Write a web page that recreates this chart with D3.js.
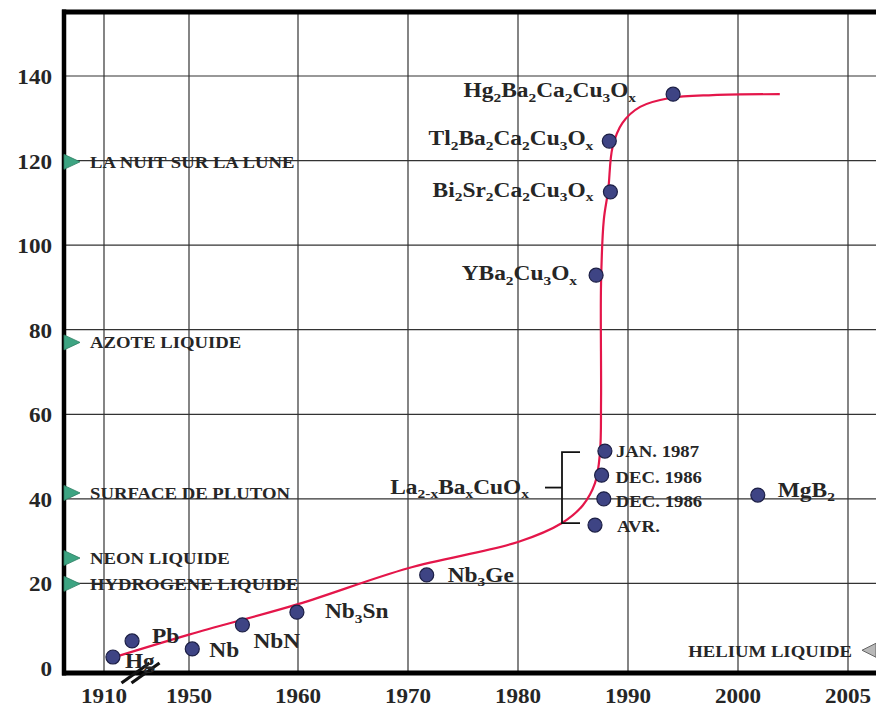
<!DOCTYPE html>
<html><head><meta charset="utf-8">
<script src="https://cdn.jsdelivr.net/npm/d3@7"></script>
<style>
body{margin:0;background:#fff}
svg{display:block}
text{font-family:"Liberation Serif","Times New Roman",serif;font-weight:bold;fill:#262626}
</style>
</head><body><svg id="c" width="876" height="709"></svg>
<script>
// ---------- data ----------
const xTicks = [1910, 1950, 1960, 1970, 1980, 1990, 2000, 2005];
const yTicks = [0, 20, 40, 60, 80, 100, 120, 140];

const materials = ["Hg", "Pb", "Nb", "NbN", "Nb_3Sn", "Nb_3Ge", "AVR.", "DEC. 1986", "DEC. 1986", "JAN. 1987",
  "YBa_2Cu_3O_x", "Bi_2Sr_2Ca_2Cu_3O_x", "Tl_2Ba_2Ca_2Cu_3O_x", "Hg_2Ba_2Ca_2Cu_3O_x", "MgB_2"];
const years = [1914.2, 1923.2, 1950.3, 1954.9, 1959.9, 1971.7, 1987.0, 1987.8, 1987.6, 1987.9,
  1987.1, 1988.4, 1988.3, 1994.1, 2000.9];
const tc = [2.6, 6.4, 4.5, 10.2, 13.2, 22.0, 33.8, 40.0, 45.6, 51.3,
  92.9, 112.6, 124.6, 135.7, 40.9];

const trendYears = [1911.9, 1950, 1960, 1970, 1980, 1984, 1985.9, 1987.0, 1987.45, 1987.55, 1987.55,
  1987.8, 1988.2, 1988.6, 1989.5, 1991.1, 1993.8, 1997.7, 2001.9];
const trendTc = [2.1, 7.9, 15.1, 23.6, 29.8, 34.3, 38.5, 43.7, 50.8, 63.4, 91.0,
  106.0, 113.0, 123.2, 128.9, 132.7, 134.8, 135.5, 135.7];

const refNames = ["LA NUIT SUR LA LUNE", "AZOTE LIQUIDE", "SURFACE DE PLUTON", "NEON LIQUIDE", "HYDROGENE LIQUIDE"];
const refTemps = [119.7, 77, 41.4, 26, 19.9];
const heliumName = "HELIUM LIQUIDE";
const heliumTemp = 4.2;
const groupName = "La_{2-x}Ba_xCuO_x";
const groupMembers = [6, 9]; // indices of first/last La-Ba-Cu-O points

// ---------- layout ----------
const L = 64, T = 12, B = 673, R = 876;
const x = d3.scaleLinear().domain(xTicks).range([104, 189, 298, 408, 518, 628, 738, 848]);
const y = d3.scaleLinear().domain([0, 140]).range([668, 76]);

// label offsets [dx, dy, anchor, size]
const big = 20, small = 16;
const labelLayout = [
  [12, 11, "start", big], [20, 2, "start", big], [17, 8, "start", big], [11, 23, "start", big],
  [28, 6, "start", big], [21, 7, "start", big],
  [22, 7, "start", small], [12, 8, "start", small], [14, 8, "start", small], [11, 6, "start", small],
  [-19, 5, "end", big], [-17, 5, "end", big], [-16, 4, "end", big], [-37, 3, "end", big], [20, 2, "start", big]
];
const SX = 1.17;

const svg = d3.select("#c");

function parse(s) {
  const out = []; let i = 0, buf = "";
  while (i < s.length) {
    if (s[i] === "_") {
      if (buf) { out.push({t: buf, sub: false}); buf = ""; }
      i++;
      if (s[i] === "{") { const j = s.indexOf("}", i); out.push({t: s.slice(i + 1, j), sub: true}); i = j + 1; }
      else { out.push({t: s[i], sub: true}); i++; }
    } else { buf += s[i]; i++; }
  }
  if (buf) out.push({t: buf, sub: false});
  return out;
}
function addText(parent, px, py, str, size, anchor, sx) {
  const g = parent.append("g").attr("transform", `translate(${px},${py}) scale(${sx},1)`);
  const t = g.append("text").attr("text-anchor", anchor).style("font-size", size + "px");
  let down = false;
  parse(str).forEach(p => {
    const ts = t.append("tspan").text(p.t);
    if (p.sub) {
      ts.style("font-size", (size * 0.66) + "px");
      if (!down) { ts.attr("dy", size * 0.22); down = true; }
    } else {
      if (down) { ts.attr("dy", -size * 0.22); down = false; }
    }
  });
  return t;
}

// grid
const grid = svg.append("g").attr("stroke", "#333").attr("stroke-width", 1.2);
grid.selectAll("line.v").data(xTicks).join("line")
  .attr("x1", d => x(d)).attr("x2", d => x(d)).attr("y1", T).attr("y2", B);
grid.selectAll("line.h").data(yTicks.filter(d => d > 0)).join("line")
  .attr("x1", L).attr("x2", R).attr("y1", d => y(d)).attr("y2", d => y(d));

// frame
svg.append("line").attr("x1", L).attr("x2", L).attr("y1", T - 2.5).attr("y2", B + 2.5).attr("stroke", "#000").attr("stroke-width", 4.5);
svg.append("line").attr("x1", L - 2).attr("x2", R).attr("y1", T).attr("y2", T).attr("stroke", "#000").attr("stroke-width", 5);
svg.append("line").attr("x1", L - 2).attr("x2", R).attr("y1", B).attr("y2", B).attr("stroke", "#000").attr("stroke-width", 5);

// tick labels
yTicks.forEach(v => addText(svg, 52, y(v) + 8, String(v), 22, "end", 1.05));
xTicks.forEach(v => addText(svg, x(v), 703, String(v), 22, "middle", 1.05));

// axis break marks
const bx = (x(1910) + x(1950)) / 2 - 6;
[-5, 5].forEach(o => svg.append("line")
  .attr("x1", bx + o - 14).attr("y1", B + 10).attr("x2", bx + o + 14).attr("y2", B - 10)
  .attr("stroke", "#111").attr("stroke-width", 3.2));

// reference temperature markers
refNames.forEach((n, i) => {
  const yy = y(refTemps[i]);
  svg.append("path").attr("d", `M${L},${yy - 7.5}L${L + 16},${yy}L${L},${yy + 7.5}Z`)
    .attr("fill", "#3da482").attr("stroke", "#2c7d62").attr("stroke-width", 0.8);
  addText(svg, 90, yy + 6, n, 16, "start", SX);
});
{
  const yy = y(heliumTemp);
  svg.append("path").attr("d", `M${R},${yy - 7}L${R - 14},${yy}L${R},${yy + 7}Z`)
    .attr("fill", "#b8b8b8").attr("stroke", "#666").attr("stroke-width", 1);
  addText(svg, 852, yy + 7, heliumName, 16, "end", SX);
}

// trend curve
const trend = trendYears.map((d, i) => [x(d), y(trendTc[i])]);
svg.append("path").attr("d", d3.line().curve(d3.curveCatmullRom.alpha(0.5))(trend))
  .attr("fill", "none").attr("stroke", "#e4164a").attr("stroke-width", 2.2);

// bracket for La-Ba-Cu-O group
{
  const bxk = x(1984);
  const yTop = y(tc[groupMembers[1]]) + 1, yBot = y(tc[groupMembers[0]]) - 2;
  const yMid = (yTop + yBot) / 2;
  const br = svg.append("g").attr("stroke", "#111").attr("stroke-width", 1.8).attr("fill", "none");
  br.append("path").attr("d", `M${bxk + 18},${yTop}H${bxk}V${yBot}H${bxk + 18}`);
  br.append("line").attr("x1", bxk - 17).attr("x2", bxk).attr("y1", yMid).attr("y2", yMid);
  addText(svg, bxk - 33, yMid + 6, groupName, big, "end", SX);
}

// points
svg.append("g").selectAll("circle").data(materials).join("circle")
  .attr("cx", (d, i) => x(years[i])).attr("cy", (d, i) => y(tc[i])).attr("r", 7)
  .attr("fill", "#3e4484").attr("stroke", "#1c1f45").attr("stroke-width", 1.2);

// point labels
materials.forEach((m, i) => {
  const [dx, dy, anc, sz] = labelLayout[i];
  addText(svg, x(years[i]) + dx, y(tc[i]) + dy, m, sz, anc, SX);
});
</script>
</body></html>
